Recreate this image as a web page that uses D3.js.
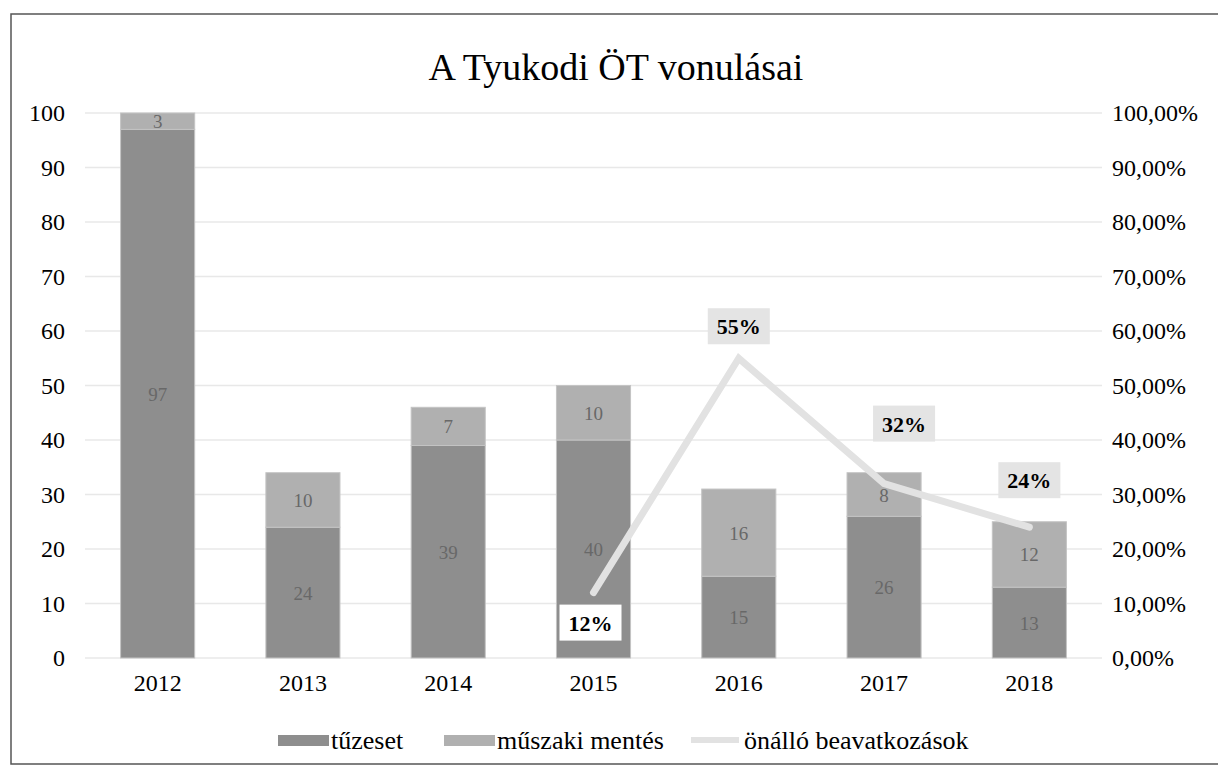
<!DOCTYPE html>
<html>
<head>
<meta charset="utf-8">
<script src="https://cdn.jsdelivr.net/npm/d3@7"></script>
<style>
  body { margin: 0; background: #fff; }
  svg { display: block; }
  svg text { font-family: "Liberation Serif", "Times New Roman", serif; }
</style>
</head>
<body>
<div id="chart"></div>
<script>
const years = ["2012", "2013", "2014", "2015", "2016", "2017", "2018"];
const tuzeset = [97, 24, 39, 40, 15, 26, 13];
const muszaki = [3, 10, 7, 10, 16, 8, 12];
const lineYears = ["2015", "2016", "2017", "2018"];
const onallo = [0.12, 0.55, 0.32, 0.24];
const leftTicks = [0, 10, 20, 30, 40, 50, 60, 70, 80, 90, 100];
const rightTicks = [0, 0.1, 0.2, 0.3, 0.4, 0.5, 0.6, 0.7, 0.8, 0.9, 1];

const W = 1218, H = 768;
const margin = { top: 113, right: 116, bottom: 110, left: 85 };
const width = W - margin.left - margin.right;
const height = H - margin.top - margin.bottom;

const cDark = "#8e8e8e", cLight = "#b0b0b0", cLine = "#e2e2e2";
const serif = "Liberation Serif, serif";

const svg = d3.select("#chart").append("svg")
  .attr("width", W).attr("height", H);

// outer frame
svg.append("rect")
  .attr("x", 11).attr("y", 14).attr("width", W - 8).attr("height", H - 18)
  .attr("fill", "none").attr("stroke", "#555").attr("stroke-width", 1.5);

svg.append("text")
  .attr("x", 616).attr("y", 80)
  .attr("text-anchor", "middle")
  .style("font-size", "38px")
  .text("A Tyukodi ÖT vonulásai");

const g = svg.append("g").attr("transform", `translate(${margin.left},${margin.top})`);

const x = d3.scaleBand().domain(years).range([0, width]).paddingInner(0.49).paddingOuter(0.245);
const y = d3.scaleLinear().domain([0, 100]).range([height, 0]);
const y2 = d3.scaleLinear().domain([0, 1]).range([height, 0]);

// grid
g.append("g").selectAll("line").data(leftTicks).join("line")
  .attr("x1", 0).attr("x2", width)
  .attr("y1", d => y(d)).attr("y2", d => y(d))
  .attr("stroke", "#e8e8e8").attr("stroke-width", 1.5);

// left axis
const ya = g.append("g")
  .call(d3.axisLeft(y).tickValues(leftTicks).tickSize(0).tickPadding(20));
ya.select(".domain").remove();
ya.selectAll("text").style("font-size", "24px").style("font-family", serif).attr("fill", "#000");

// right axis
const fmtPct = d => d3.format(".2f")(d * 100).replace(".", ",") + "%";
const yr = g.append("g").attr("transform", `translate(${width},0)`)
  .call(d3.axisRight(y2).tickValues(rightTicks).tickSize(0).tickPadding(10).tickFormat(fmtPct));
yr.select(".domain").remove();
yr.selectAll("text").style("font-size", "24px").style("font-family", serif).attr("fill", "#000");

// x axis
const xa = g.append("g").attr("transform", `translate(0,${height})`)
  .call(d3.axisBottom(x).tickSize(0).tickPadding(16));
xa.select(".domain").remove();
xa.selectAll("text").style("font-size", "24px").style("font-family", serif).attr("fill", "#000");

// stacked bars
const rows = years.map((yr, i) => ({ year: yr, tuzeset: tuzeset[i], muszaki: muszaki[i] }));
const stack = d3.stack().keys(["tuzeset", "muszaki"])(rows);
const colors = { tuzeset: cDark, muszaki: cLight };

stack.forEach(layer => {
  const lg = g.append("g");
  lg.selectAll("rect").data(layer).join("rect")
    .attr("x", d => x(d.data.year))
    .attr("width", x.bandwidth())
    .attr("y", d => y(d[1]))
    .attr("height", d => y(d[0]) - y(d[1]))
    .attr("fill", colors[layer.key])
    .attr("stroke", "#c4c4c4").attr("stroke-width", 1);
  lg.selectAll("text").data(layer).join("text")
    .attr("x", d => x(d.data.year) + x.bandwidth() / 2)
    .attr("y", d => y((d[0] + d[1]) / 2) + 7)
    .attr("text-anchor", "middle")
    .attr("fill", "#686868")
    .style("font-size", "19px")
    .text(d => d.data[layer.key]);
});

// line series
const pts = lineYears.map((yr, i) => ({ year: yr, v: onallo[i] }));
const line = d3.line().x(d => x(d.year) + x.bandwidth() / 2).y(d => y2(d.v));
g.append("path").datum(pts)
  .attr("d", line)
  .attr("fill", "none")
  .attr("stroke", cLine).attr("stroke-width", 7)
  .attr("stroke-linecap", "round").attr("stroke-linejoin", "miter");

// percent labels (offsets from their points)
const lblOffset = [[-3, 30], [0, -32], [20, -60], [0, -47]];
const lblFill = ["#ffffff", "#e4e4e4", "#e4e4e4", "#e4e4e4"];
pts.forEach((d, i) => {
  const cx = x(d.year) + x.bandwidth() / 2 + lblOffset[i][0];
  const cy = y2(d.v) + lblOffset[i][1];
  g.append("rect")
    .attr("x", cx - 31).attr("y", cy - 18).attr("width", 62).attr("height", 36)
    .attr("fill", lblFill[i]);
  g.append("text")
    .attr("x", cx).attr("y", cy + 8)
    .attr("text-anchor", "middle")
    .style("font-size", "22px").style("font-weight", "bold")
    .text(Math.round(d.v * 100) + "%");
});

// legend
const legend = svg.append("g");
const legItems = [
  { label: "tűzeset", color: cDark, type: "rect", x: 278 },
  { label: "műszaki mentés", color: cLight, type: "rect", x: 444 },
  { label: "önálló beavatkozások", color: cLine, type: "line", x: 691 }
];
legItems.forEach(it => {
  if (it.type === "rect") {
    legend.append("rect").attr("x", it.x).attr("y", 735).attr("width", 51).attr("height", 11).attr("fill", it.color);
  } else {
    legend.append("line").attr("x1", it.x).attr("x2", it.x + 48).attr("y1", 740).attr("y2", 740)
      .attr("stroke", it.color).attr("stroke-width", 6);
  }
  legend.append("text").attr("x", it.x + 53).attr("y", 749)
    .style("font-size", "26px").text(it.label);
});
</script>
</body>
</html>
